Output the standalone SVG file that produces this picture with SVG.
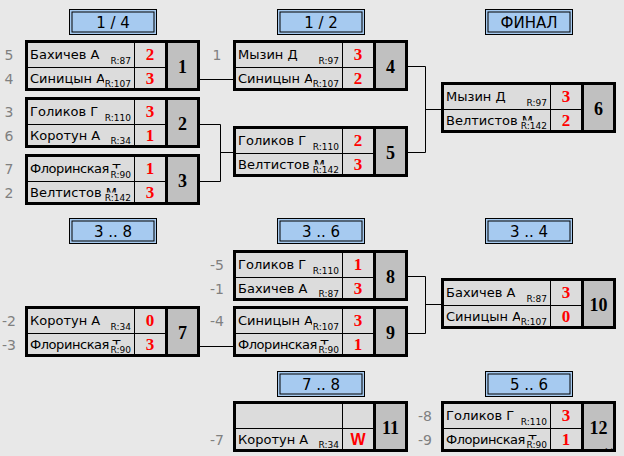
<svg xmlns="http://www.w3.org/2000/svg" width="624" height="456" viewBox="0 0 624 456">
<style>
.bg{fill:#e8e8e8}
.hdo{fill:#a6caf0;stroke:#000;stroke-width:1}
.hdi{fill:none;stroke:#000;stroke-width:1}
.ht{font-family:"DejaVu Sans",sans-serif;font-size:15px;fill:#000;text-anchor:middle}
.box{fill:#dcdcdc;stroke:#000;stroke-width:3}
.num{fill:#c0c0c0}
.thin{stroke:#000;stroke-width:1}
.thick{stroke:#000;stroke-width:3}
.nm{font-family:"DejaVu Sans",sans-serif;font-size:13px;fill:#000}
.nt{letter-spacing:-0.45px}
.rt{font-family:"DejaVu Sans",sans-serif;font-size:9px;fill:#000;text-anchor:end}
.rb{fill:#dcdcdc}
.sc{font-family:"Liberation Serif",serif;font-size:17px;font-weight:bold;fill:#ff0000;text-anchor:middle}
.mn{font-family:"Liberation Serif",serif;font-size:18px;font-weight:bold;fill:#000;text-anchor:middle}
.sd{font-family:"DejaVu Sans",sans-serif;font-size:14px;fill:#808080;text-anchor:middle}
.cn{fill:none;stroke:#000;stroke-width:1}
</style>
<rect class="bg" x="0" y="0" width="624" height="456"/>

<g id="headers">
<g id="h-q"><rect class="hdo" x="69.5" y="9.5" width="87" height="25"/><rect class="hdi" x="72" y="12" width="82" height="20"/><text class="ht" x="113" y="28">1 / 4</text></g>
<g id="h-s"><rect class="hdo" x="277.5" y="9.5" width="87" height="25"/><rect class="hdi" x="280" y="12" width="82" height="20"/><text class="ht" x="321" y="28">1 / 2</text></g>
<g id="h-f"><rect class="hdo" x="485.5" y="9.5" width="87" height="25"/><rect class="hdi" x="488" y="12" width="82" height="20"/><text class="ht" x="529" y="28">ФИНАЛ</text></g>
<g id="h-38"><rect class="hdo" x="69.5" y="218.5" width="87" height="25"/><rect class="hdi" x="72" y="221" width="82" height="20"/><text class="ht" x="113" y="237">3 .. 8</text></g>
<g id="h-36"><rect class="hdo" x="277.5" y="218.5" width="87" height="25"/><rect class="hdi" x="280" y="221" width="82" height="20"/><text class="ht" x="321" y="237">3 .. 6</text></g>
<g id="h-34"><rect class="hdo" x="485.5" y="218.5" width="87" height="25"/><rect class="hdi" x="488" y="221" width="82" height="20"/><text class="ht" x="529" y="237">3 .. 4</text></g>
<g id="h-78"><rect class="hdo" x="277.5" y="371.5" width="87" height="25"/><rect class="hdi" x="280" y="374" width="82" height="20"/><text class="ht" x="321" y="390">7 .. 8</text></g>
<g id="h-56"><rect class="hdo" x="485.5" y="371.5" width="87" height="25"/><rect class="hdi" x="488" y="374" width="82" height="20"/><text class="ht" x="529" y="390">5 .. 6</text></g>
</g>

<g id="connectors">
<path class="cn" d="M200 79.5H233"/>
<path class="cn" d="M200 124.5H220.5V181.5H200M220.5 152.5H233"/>
<path class="cn" d="M408 66.5H425.5V152.5H408M425.5 109.5H441"/>
<path class="cn" d="M200 346.5H233"/>
<path class="cn" d="M408 276.5H425.5V333.5H408M425.5 304.5H441"/>
</g>

<g id="m1" transform="translate(25,40)">
<rect class="box" x="1.5" y="1.5" width="172" height="48"/><rect class="num" x="141" y="3" width="31" height="45"/>
<path class="thin" d="M3 27.5H141M109.5 3V48"/><path class="thick" d="M141.5 3V48"/>
<text class="nm" x="5" y="19">Бахичев А</text><rect class="rb" x="83" y="15" width="25" height="10"/><text class="rt" x="106" y="23.5">R:87</text>
<text class="nm" x="5" y="43">Синицын А</text><rect class="rb" x="79" y="39" width="29" height="9"/><text class="rt" x="106" y="47">R:107</text>
<text class="sc" x="125" y="20">2</text><text class="sc" x="125" y="44">3</text>
<text class="mn" x="157.5" y="32.5">1</text>
<text class="sd" x="-16" y="20">5</text><text class="sd" x="-16" y="44">4</text>
</g>

<g id="m2" transform="translate(25,97)">
<rect class="box" x="1.5" y="1.5" width="172" height="48"/><rect class="num" x="141" y="3" width="31" height="45"/>
<path class="thin" d="M3 27.5H141M109.5 3V48"/><path class="thick" d="M141.5 3V48"/>
<text class="nm" x="5" y="19">Голиков Г</text><rect class="rb" x="79" y="15" width="29" height="10"/><text class="rt" x="106" y="23.5">R:110</text>
<text class="nm" x="5" y="43">Коротун А</text><rect class="rb" x="83" y="39" width="25" height="9"/><text class="rt" x="106" y="47">R:34</text>
<text class="sc" x="125" y="20">3</text><text class="sc" x="125" y="44">1</text>
<text class="mn" x="157.5" y="32.5">2</text>
<text class="sd" x="-16" y="20">3</text><text class="sd" x="-16" y="44">6</text>
</g>

<g id="m3" transform="translate(25,154)">
<rect class="box" x="1.5" y="1.5" width="172" height="48"/><rect class="num" x="141" y="3" width="31" height="45"/>
<path class="thin" d="M3 27.5H141M109.5 3V48"/><path class="thick" d="M141.5 3V48"/>
<text class="nm nt" x="5" y="19">Флоринская Т</text><rect class="rb" x="85" y="14.5" width="23" height="10"/><text class="rt" x="106" y="23.5">R:90</text>
<text class="nm" x="5" y="43">Велтистов М</text><rect class="rb" x="79" y="38.5" width="29" height="9.5"/><text class="rt" x="106" y="47">R:142</text>
<text class="sc" x="125" y="20">1</text><text class="sc" x="125" y="44">3</text>
<text class="mn" x="157.5" y="32.5">3</text>
<text class="sd" x="-16" y="20">7</text><text class="sd" x="-16" y="44">2</text>
</g>

<g id="m4" transform="translate(233,40)">
<rect class="box" x="1.5" y="1.5" width="172" height="48"/><rect class="num" x="141" y="3" width="31" height="45"/>
<path class="thin" d="M3 27.5H141M109.5 3V48"/><path class="thick" d="M141.5 3V48"/>
<text class="nm" x="5" y="19">Мызин Д</text><rect class="rb" x="83" y="15" width="25" height="10"/><text class="rt" x="106" y="23.5">R:97</text>
<text class="nm" x="5" y="43">Синицын А</text><rect class="rb" x="79" y="39" width="29" height="9"/><text class="rt" x="106" y="47">R:107</text>
<text class="sc" x="125" y="20">3</text><text class="sc" x="125" y="44">2</text>
<text class="mn" x="157.5" y="32.5">4</text>
<text class="sd" x="-16" y="20">1</text>
</g>

<g id="m5" transform="translate(233,126)">
<rect class="box" x="1.5" y="1.5" width="172" height="48"/><rect class="num" x="141" y="3" width="31" height="45"/>
<path class="thin" d="M3 27.5H141M109.5 3V48"/><path class="thick" d="M141.5 3V48"/>
<text class="nm" x="5" y="19">Голиков Г</text><rect class="rb" x="79" y="15" width="29" height="10"/><text class="rt" x="106" y="23.5">R:110</text>
<text class="nm" x="5" y="43">Велтистов М</text><rect class="rb" x="79" y="38.5" width="29" height="9.5"/><text class="rt" x="106" y="47">R:142</text>
<text class="sc" x="125" y="20">2</text><text class="sc" x="125" y="44">3</text>
<text class="mn" x="157.5" y="32.5">5</text>
</g>

<g id="m6" transform="translate(441,82)">
<rect class="box" x="1.5" y="1.5" width="172" height="48"/><rect class="num" x="141" y="3" width="31" height="45"/>
<path class="thin" d="M3 27.5H141M109.5 3V48"/><path class="thick" d="M141.5 3V48"/>
<text class="nm" x="5" y="19">Мызин Д</text><rect class="rb" x="83" y="15" width="25" height="10"/><text class="rt" x="106" y="23.5">R:97</text>
<text class="nm" x="5" y="43">Велтистов М</text><rect class="rb" x="79" y="38.5" width="29" height="9.5"/><text class="rt" x="106" y="47">R:142</text>
<text class="sc" x="125" y="20">3</text><text class="sc" x="125" y="44">2</text>
<text class="mn" x="157.5" y="32.5">6</text>
</g>

<g id="m7" transform="translate(25,306)">
<rect class="box" x="1.5" y="1.5" width="172" height="48"/><rect class="num" x="141" y="3" width="31" height="45"/>
<path class="thin" d="M3 27.5H141M109.5 3V48"/><path class="thick" d="M141.5 3V48"/>
<text class="nm" x="5" y="19">Коротун А</text><rect class="rb" x="83" y="15" width="25" height="10"/><text class="rt" x="106" y="23.5">R:34</text>
<text class="nm nt" x="5" y="43">Флоринская Т</text><rect class="rb" x="85" y="38.5" width="23" height="9.5"/><text class="rt" x="106" y="47">R:90</text>
<text class="sc" x="125" y="20">0</text><text class="sc" x="125" y="44">3</text>
<text class="mn" x="157.5" y="32.5">7</text>
<text class="sd" x="-16" y="20">-2</text><text class="sd" x="-16" y="44">-3</text>
</g>

<g id="m8" transform="translate(233,250)">
<rect class="box" x="1.5" y="1.5" width="172" height="48"/><rect class="num" x="141" y="3" width="31" height="45"/>
<path class="thin" d="M3 27.5H141M109.5 3V48"/><path class="thick" d="M141.5 3V48"/>
<text class="nm" x="5" y="19">Голиков Г</text><rect class="rb" x="79" y="15" width="29" height="10"/><text class="rt" x="106" y="23.5">R:110</text>
<text class="nm" x="5" y="43">Бахичев А</text><rect class="rb" x="83" y="39" width="25" height="9"/><text class="rt" x="106" y="47">R:87</text>
<text class="sc" x="125" y="20">1</text><text class="sc" x="125" y="44">3</text>
<text class="mn" x="157.5" y="32.5">8</text>
<text class="sd" x="-16" y="20">-5</text><text class="sd" x="-16" y="44">-1</text>
</g>

<g id="m9" transform="translate(233,306)">
<rect class="box" x="1.5" y="1.5" width="172" height="48"/><rect class="num" x="141" y="3" width="31" height="45"/>
<path class="thin" d="M3 27.5H141M109.5 3V48"/><path class="thick" d="M141.5 3V48"/>
<text class="nm" x="5" y="19">Синицын А</text><rect class="rb" x="79" y="15" width="29" height="10"/><text class="rt" x="106" y="23.5">R:107</text>
<text class="nm nt" x="5" y="43">Флоринская Т</text><rect class="rb" x="85" y="38.5" width="23" height="9.5"/><text class="rt" x="106" y="47">R:90</text>
<text class="sc" x="125" y="20">3</text><text class="sc" x="125" y="44">1</text>
<text class="mn" x="157.5" y="32.5">9</text>
<text class="sd" x="-16" y="20">-4</text>
</g>

<g id="m10" transform="translate(441,278)">
<rect class="box" x="1.5" y="1.5" width="172" height="48"/><rect class="num" x="141" y="3" width="31" height="45"/>
<path class="thin" d="M3 27.5H141M109.5 3V48"/><path class="thick" d="M141.5 3V48"/>
<text class="nm" x="5" y="19">Бахичев А</text><rect class="rb" x="83" y="15" width="25" height="10"/><text class="rt" x="106" y="23.5">R:87</text>
<text class="nm" x="5" y="43">Синицын А</text><rect class="rb" x="79" y="39" width="29" height="9"/><text class="rt" x="106" y="47">R:107</text>
<text class="sc" x="125" y="20">3</text><text class="sc" x="125" y="44">0</text>
<text class="mn" x="157.5" y="32.5">10</text>
</g>

<g id="m11" transform="translate(233,401)">
<rect class="box" x="1.5" y="1.5" width="172" height="48"/><rect class="num" x="141" y="3" width="31" height="45"/>
<path class="thin" d="M3 27.5H141M109.5 3V48"/><path class="thick" d="M141.5 3V48"/>
<text class="nm" x="5" y="43">Коротун А</text><rect class="rb" x="83" y="39" width="25" height="9"/><text class="rt" x="106" y="47">R:34</text>
<text class="sc" x="125" y="44" style="font-family:'Liberation Sans',sans-serif;font-size:16px">W</text>
<text class="mn" x="157.5" y="32.5">11</text>
<text class="sd" x="-16" y="44">-7</text>
</g>

<g id="m12" transform="translate(441,401)">
<rect class="box" x="1.5" y="1.5" width="172" height="48"/><rect class="num" x="141" y="3" width="31" height="45"/>
<path class="thin" d="M3 27.5H141M109.5 3V48"/><path class="thick" d="M141.5 3V48"/>
<text class="nm" x="5" y="19">Голиков Г</text><rect class="rb" x="79" y="15" width="29" height="10"/><text class="rt" x="106" y="23.5">R:110</text>
<text class="nm nt" x="5" y="43">Флоринская Т</text><rect class="rb" x="85" y="38.5" width="23" height="9.5"/><text class="rt" x="106" y="47">R:90</text>
<text class="sc" x="125" y="20">3</text><text class="sc" x="125" y="44">1</text>
<text class="mn" x="157.5" y="32.5">12</text>
<text class="sd" x="-16" y="20">-8</text><text class="sd" x="-16" y="44">-9</text>
<text x="172" y="51" style="font-family:'DejaVu Sans',sans-serif;font-size:5px;fill:#000;text-anchor:end">1:4</text>
</g>
</svg>
